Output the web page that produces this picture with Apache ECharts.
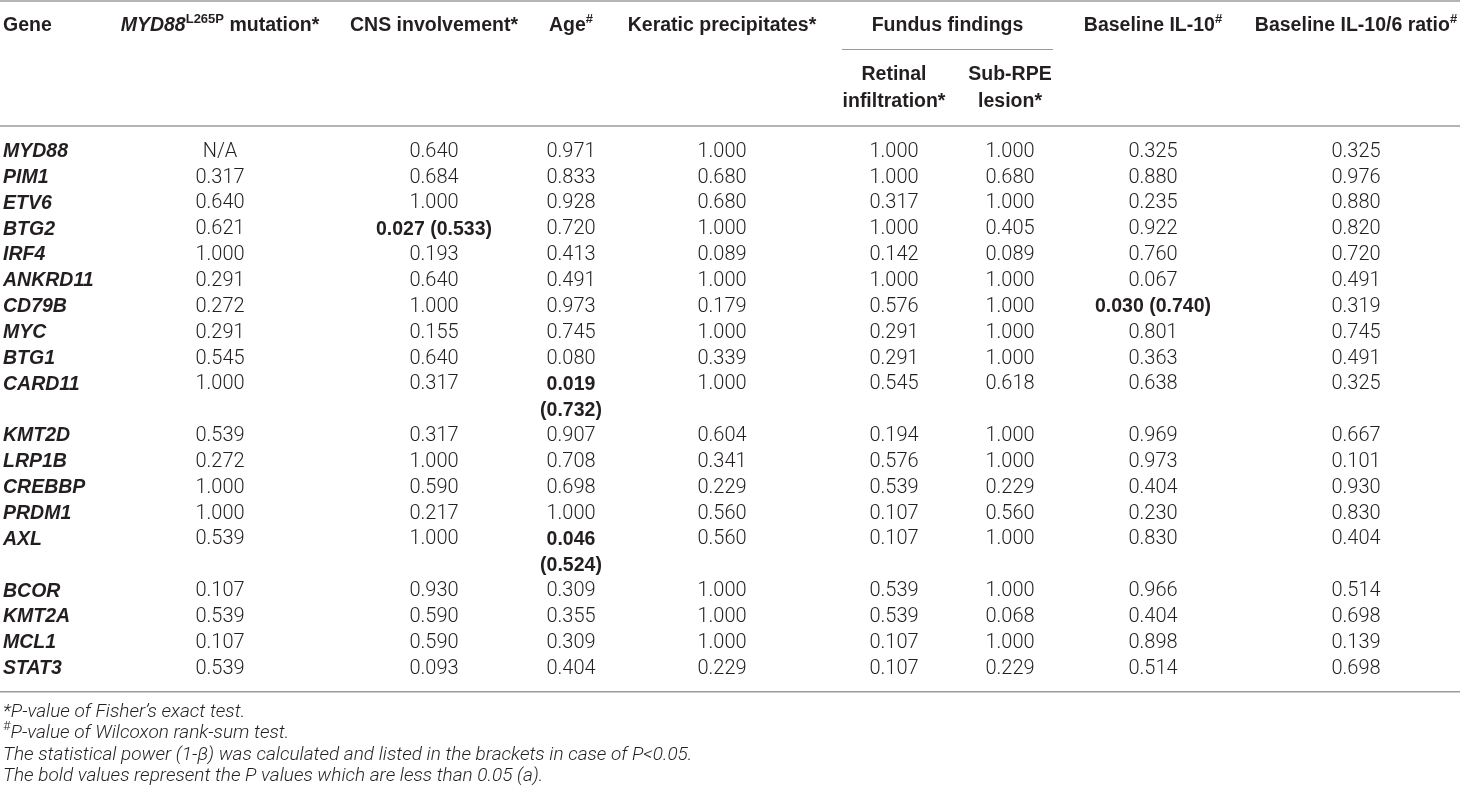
<!DOCTYPE html>
<html>
<head>
<meta charset="utf-8">
<script src="https://cdn.jsdelivr.net/npm/echarts@6/dist/echarts.min.js"></script>
<style>
html, body { margin: 0; padding: 0; background: #fff; }
#main { width: 1460px; height: 801px; }
</style>
</head>
<body>
<div id="main"></div>
<script>
// table values, one array per column
var genes = ['MYD88', 'PIM1', 'ETV6', 'BTG2', 'IRF4', 'ANKRD11', 'CD79B', 'MYC', 'BTG1', 'CARD11',
    'KMT2D', 'LRP1B', 'CREBBP', 'PRDM1', 'AXL', 'BCOR', 'KMT2A', 'MCL1', 'STAT3'];
var myd88Mutation = ['N/A', '0.317', '0.640', '0.621', '1.000', '0.291', '0.272', '0.291', '0.545', '1.000',
    '0.539', '0.272', '1.000', '1.000', '0.539', '0.107', '0.539', '0.107', '0.539'];
var cnsInvolvement = ['0.640', '0.684', '1.000', '0.027 (0.533)', '0.193', '0.640', '1.000', '0.155', '0.640', '0.317',
    '0.317', '1.000', '0.590', '0.217', '1.000', '0.930', '0.590', '0.590', '0.093'];
var age = ['0.971', '0.833', '0.928', '0.720', '0.413', '0.491', '0.973', '0.745', '0.080', '0.019 (0.732)',
    '0.907', '0.708', '0.698', '1.000', '0.046 (0.524)', '0.309', '0.355', '0.309', '0.404'];
var kerat = ['1.000', '0.680', '0.680', '1.000', '0.089', '1.000', '0.179', '1.000', '0.339', '1.000',
    '0.604', '0.341', '0.229', '0.560', '0.560', '1.000', '1.000', '1.000', '0.229'];
var retinal = ['1.000', '1.000', '0.317', '1.000', '0.142', '1.000', '0.576', '0.291', '0.291', '0.545',
    '0.194', '0.576', '0.539', '0.107', '0.107', '0.539', '0.539', '0.107', '0.107'];
var subRpe = ['1.000', '0.680', '1.000', '0.405', '0.089', '1.000', '1.000', '1.000', '1.000', '0.618',
    '1.000', '1.000', '0.229', '0.560', '1.000', '1.000', '0.068', '1.000', '0.229'];
var il10 = ['0.325', '0.880', '0.235', '0.922', '0.760', '0.067', '0.030 (0.740)', '0.801', '0.363', '0.638',
    '0.969', '0.973', '0.404', '0.230', '0.830', '0.966', '0.404', '0.898', '0.514'];
var il10Ratio = ['0.325', '0.976', '0.880', '0.820', '0.720', '0.491', '0.319', '0.745', '0.491', '0.325',
    '0.667', '0.101', '0.930', '0.830', '0.404', '0.514', '0.698', '0.139', '0.698'];

var headers = ['Gene', '{bi|MYD88}{sup|L265P} mutation*', 'CNS involvement*', 'Age{sup|#}', 'Keratic precipitates*',
    'Retinal\ninfiltration*', 'Sub-RPE\nlesion*', 'Baseline IL-10{sup|#}', 'Baseline IL-10/6 ratio{sup|#}'];
var groupHeader = 'Fundus findings';
var footnotes = [
    '*P-value of Fisher\u2019s exact test.',
    '{sup|#}P-value of Wilcoxon rank-sum test.',
    'The statistical power (1-\u03b2) was calculated and listed in the brackets in case of P<0.05.',
    'The bold values represent the P values which are less than 0.05 (a).'
];

// layout
var colX = [3, 220, 434, 571, 722, 894, 1010, 1153, 1356];
var colWidth = [100, 220, 170, 90, 190, 100, 100, 150, 200];
var groupFrom = 842, groupTo = 1053;
var headY = 25.5, subHeadY = 75, subHeadPitch = 26.5;
var firstRowY = 151.7, linePitch = 25.85;
var footY = 712, footPitch = 21.5;
var ink = '#231f20';
var ruleColor = '#9b9b9b';
var fontSize = 19.5;
var boldFamily = 'Liberation Sans';
var lightFamily = 'Roboto';

var columns = [genes, myd88Mutation, cnsInvolvement, age, kerat, retinal, subRpe, il10, il10Ratio];

var measure = document.createElement('canvas').getContext('2d');
function textWidth(text, bold) {
    measure.font = (bold ? 'bold ' : '300 ') + fontSize + 'px "' + (bold ? boldFamily : lightFamily) + '"';
    return measure.measureText(text).width;
}

var cells = [];
var line = 0;
genes.forEach(function (g, r) {
    var rowLines = 1;
    columns.forEach(function (col, c) {
        var text = col[r];
        if (c === 0) {
            cells.push({x: colX[0], y: firstRowY + line * linePitch, text: text, kind: 'gene', align: 'left'});
            return;
        }
        var bold = parseFloat(text) < 0.05;
        var parts = [text];
        if (textWidth(text, bold) > colWidth[c]) parts = text.split(' ');
        parts.forEach(function (p, k) {
            cells.push({x: colX[c], y: firstRowY + (line + k) * linePitch, text: p,
                kind: bold ? 'bold' : 'value', align: 'center'});
        });
        rowLines = Math.max(rowLines, parts.length);
    });
    line += rowLines;
});

headers.forEach(function (h, c) {
    var sub = c === 5 || c === 6;
    if (sub) {
        h.split('\n').forEach(function (p, k) {
            cells.push({x: colX[c], y: subHeadY + k * subHeadPitch, text: p, kind: 'head', align: 'center'});
        });
    } else {
        cells.push({x: colX[c], y: headY, text: h, kind: 'head', align: c === 0 ? 'left' : 'center'});
    }
});
cells.push({x: (groupFrom + groupTo) / 2, y: headY, text: groupHeader, kind: 'head', align: 'center'});

footnotes.forEach(function (f, i) {
    cells.push({x: 3, y: footY + i * footPitch, text: f, kind: 'foot', align: 'left'});
});

var bottomRuleY = firstRowY + (line - 1) * linePitch + 23;
var rules = [
    [0, 1460, 1, 1.6],
    [groupFrom, groupTo, 49.5, 1],
    [0, 1460, 126, 1.6],
    [0, 1460, bottomRuleY, 1.6]
];

var styles = {
    head: {fontFamily: boldFamily, fontWeight: 'bold', fontStyle: 'normal', fontSize: fontSize},
    gene: {fontFamily: boldFamily, fontWeight: 'bold', fontStyle: 'italic', fontSize: fontSize},
    bold: {fontFamily: boldFamily, fontWeight: 'bold', fontStyle: 'normal', fontSize: fontSize},
    value: {fontFamily: lightFamily, fontWeight: 300, fontStyle: 'normal', fontSize: 20},
    foot: {fontFamily: lightFamily, fontWeight: 300, fontStyle: 'italic', fontSize: 19}
};

var myChart = echarts.init(document.getElementById('main'));
var option = {
    backgroundColor: '#fff',
    animation: false,
    grid: {left: 0, right: 0, top: 0, bottom: 0},
    xAxis: {type: 'value', min: 0, max: 1460, show: false},
    yAxis: {type: 'value', min: 0, max: 801, inverse: true, show: false},
    series: [
        {
            type: 'custom',
            name: 'rules',
            data: rules,
            renderItem: function (params, api) {
                var a = api.coord([api.value(0), api.value(2)]);
                var b = api.coord([api.value(1), api.value(2)]);
                return {
                    type: 'line',
                    shape: {x1: a[0], y1: a[1], x2: b[0], y2: b[1]},
                    style: {stroke: ruleColor, lineWidth: api.value(3)}
                };
            }
        },
        {
            type: 'custom',
            name: 'cells',
            data: cells.map(function (c) { return [c.x, c.y]; }),
            renderItem: function (params, api) {
                var c = cells[params.dataIndex];
                var p = api.coord([api.value(0), api.value(1)]);
                var s = styles[c.kind];
                var base = c.kind === 'foot' ? s.fontSize : fontSize;
                return {
                    type: 'text',
                    x: p[0],
                    y: p[1],
                    style: {
                        text: c.text,
                        fill: ink,
                        fontFamily: s.fontFamily,
                        fontWeight: s.fontWeight,
                        fontStyle: s.fontStyle,
                        fontSize: s.fontSize,
                        lineHeight: 26,
                        align: c.align,
                        verticalAlign: 'middle',
                        rich: {
                            bi: {fontFamily: boldFamily, fontWeight: 'bold', fontStyle: 'italic',
                                fontSize: fontSize, lineHeight: 26, fill: ink},
                            sup: {fontFamily: s.fontFamily, fontWeight: s.fontWeight, fontStyle: 'normal',
                                fontSize: Math.round(base * 0.68), lineHeight: 14, verticalAlign: 'top', fill: ink}
                        }
                    }
                };
            }
        }
    ]
};
myChart.setOption(option);
</script>
</body>
</html>
